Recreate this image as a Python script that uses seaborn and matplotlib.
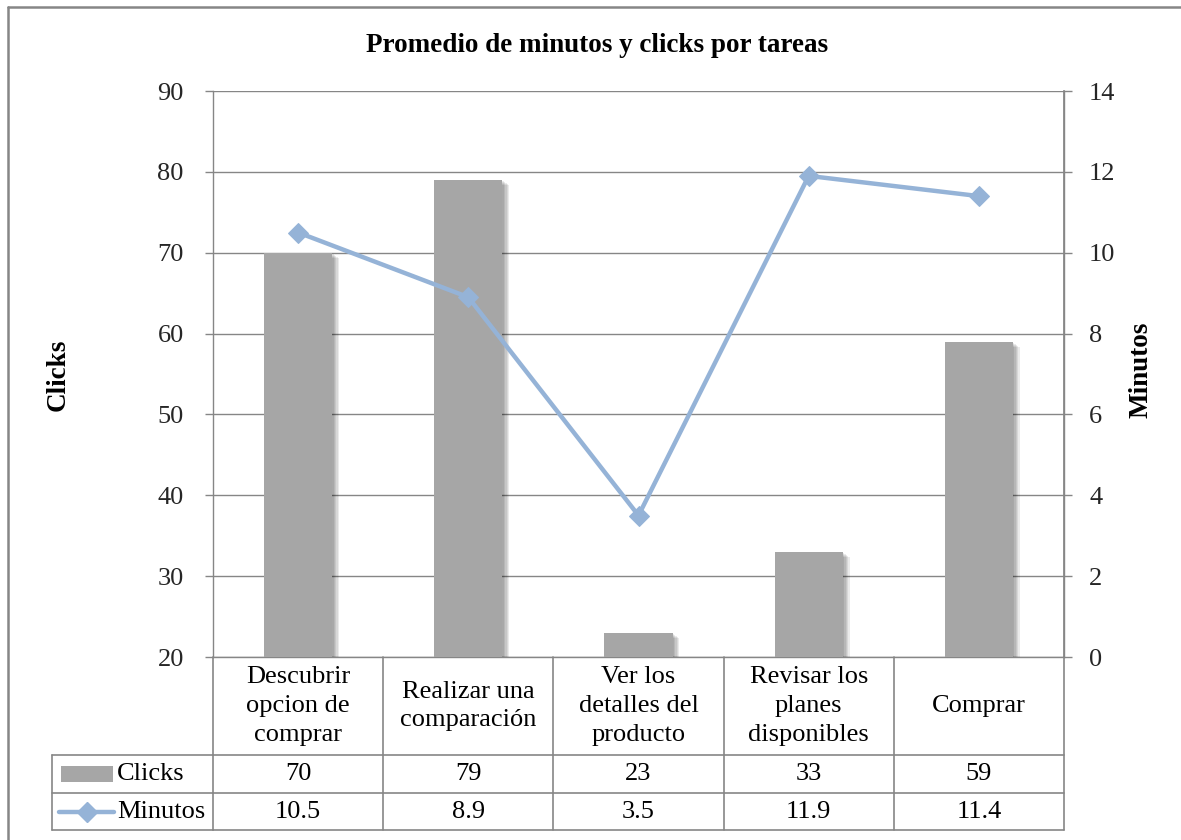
import numpy as np
import matplotlib
matplotlib.use("Agg")
import matplotlib.pyplot as plt
import matplotlib.patheffects as pe
import matplotlib.transforms as mtransforms
from matplotlib.lines import Line2D
from matplotlib.patches import Rectangle
import seaborn as sns

# ---- data ----
categories = [
    "Descubrir\nopcion de\ncomprar",
    "Realizar una\ncomparación",
    "Ver los\ndetalles del\nproducto",
    "Revisar los\nplanes\ndisponibles",
    "Comprar",
]
clicks = [70, 79, 23, 33, 59]
minutos = [10.5, 8.9, 3.5, 11.9, 11.4]
clicks_ticks = [20, 30, 40, 50, 60, 70, 80, 90]
minutos_ticks = [0, 2, 4, 6, 8, 10, 12, 14]

BAR = "#a6a6a6"
LINE = "#95b3d7"
GRID = "#868686"

sns.set_theme(style="white")
plt.rcParams["font.family"] = ["Liberation Serif", "DejaVu Serif"]
plt.rcParams["text.color"] = "black"

W, H = 1181, 840
fig = plt.figure(figsize=(W / 100, H / 100), dpi=100)


def fx(px):
    return px / W


def fy(px):
    return 1 - px / H


ax = fig.add_axes([fx(213), fy(657), fx(1064) - fx(213), fy(91) - fy(657)])

# bars with a soft drop shadow
shadow = [pe.SimplePatchShadow(offset=(o, -o * 0.8), shadow_rgbFace="black", alpha=0.08)
          for o in (1, 2, 3, 4, 5)]
sns.barplot(x=list(range(len(clicks))), y=clicks, ax=ax, color=BAR, width=0.4,
            saturation=1, native_scale=False, zorder=3)
for p in ax.patches:
    p.set_edgecolor("none")
    p.set_path_effects(shadow + [pe.Normal()])

ax.set_ylim(clicks_ticks[0], clicks_ticks[-1])
ax.set_yticks(clicks_ticks)
ax.set_xlim(-0.5, len(clicks) - 0.5)
ax.set_xticks([])
ax.set_xlabel("")
ax.set_ylabel("")
ax.yaxis.grid(True, color=GRID, linewidth=1.0)
ax.set_axisbelow(True)
ax.tick_params(axis="y", direction="out", length=6, width=1, color=GRID,
               labelsize=19, pad=15, left=True)
for s in ax.spines.values():
    s.set_color(GRID)
    s.set_linewidth(1.0)
ax.spines["top"].set_visible(False)

# minutes line on the secondary axis
ax2 = ax.twinx()
sns.lineplot(x=np.arange(len(minutos)), y=minutos, ax=ax2, color=LINE, linewidth=3.2,
             marker="D", markersize=10, markeredgecolor=LINE, sort=False, zorder=5)
ax2.set_ylim(minutos_ticks[0], minutos_ticks[-1])
ax2.set_yticks(minutos_ticks)
ax2.set_xlim(-0.5, len(minutos) - 0.5)
ax2.set_ylabel("")
ax2.grid(False)
ax2.tick_params(axis="y", direction="out", length=6, width=1, color=GRID,
                labelsize=19, pad=12, right=True)
for s in ax2.spines.values():
    s.set_visible(False)
ax2.spines["right"].set_visible(True)
ax2.spines["right"].set_color(GRID)

# ---- data table under the plot ----
blend = mtransforms.blended_transform_factory(ax.transData, fig.transFigure)
lw = 1.2
n = len(categories)
edges = np.arange(n + 1) - 0.5
y_top, y_r1, y_r2, y_bot = fy(657), fy(755), fy(793), fy(830)

for e in edges:
    fig.add_artist(Line2D([e, e], [y_top, y_bot], transform=blend, color=GRID, lw=lw))
for yy in (y_r1, y_r2, y_bot):
    fig.add_artist(Line2D([fx(52), fx(213)], [yy, yy], transform=fig.transFigure, color=GRID, lw=lw))
    fig.add_artist(Line2D([edges[0], edges[-1]], [yy, yy], transform=blend, color=GRID, lw=lw))
fig.add_artist(Line2D([fx(52), fx(52)], [y_r1, y_bot], transform=fig.transFigure, color=GRID, lw=lw))

for i, cat in enumerate(categories):
    fig.text(i, (y_top + y_r1) / 2, cat, transform=blend, ha="center", va="center",
             fontsize=19, linespacing=1.4)
    fig.text(i, (y_r1 + y_r2) / 2, f"{clicks[i]:d}", transform=blend,
             ha="center", va="center", fontsize=19)
    fig.text(i, (y_r2 + y_bot) / 2, f"{minutos[i]:.1f}", transform=blend,
             ha="center", va="center", fontsize=19)

# legend keys in the first column
fig.add_artist(Rectangle((fx(61), fy(782)), fx(113) - fx(61), fy(766) - fy(782),
                         transform=fig.transFigure, color=BAR, lw=0))
fig.text(fx(117), (y_r1 + y_r2) / 2, "Clicks", ha="left", va="center", fontsize=19)
fig.add_artist(Line2D([fx(59), fx(114)], [fy(812), fy(812)], transform=fig.transFigure,
                      color=LINE, lw=3.2, solid_capstyle="round"))
fig.add_artist(Line2D([fx(87)], [fy(812)], transform=fig.transFigure, color=LINE,
                      marker="D", markersize=10, lw=0))
fig.text(fx(117), (y_r2 + y_bot) / 2, "Minutos", ha="left", va="center", fontsize=19)

# titles
fig.text(fx(597), fy(46), "Promedio de minutos y clicks por tareas", ha="center",
         va="center", fontsize=19.5, fontweight="bold")
fig.text(fx(58), fy(375), "Clicks", rotation=90, ha="center", va="center",
         fontsize=19.5, fontweight="bold")
fig.text(fx(1141), fy(370), "Minutos", rotation=90, ha="center", va="center",
         fontsize=19.5, fontweight="bold")

# chart-area frame (top and left edges)
fig.add_artist(Line2D([fx(8), 1.0], [fy(7), fy(7)], transform=fig.transFigure, color=GRID, lw=1.8))
fig.add_artist(Line2D([fx(8), fx(8)], [fy(7), 0.0], transform=fig.transFigure, color=GRID, lw=1.8))

fig.savefig("out.png", dpi=100)
